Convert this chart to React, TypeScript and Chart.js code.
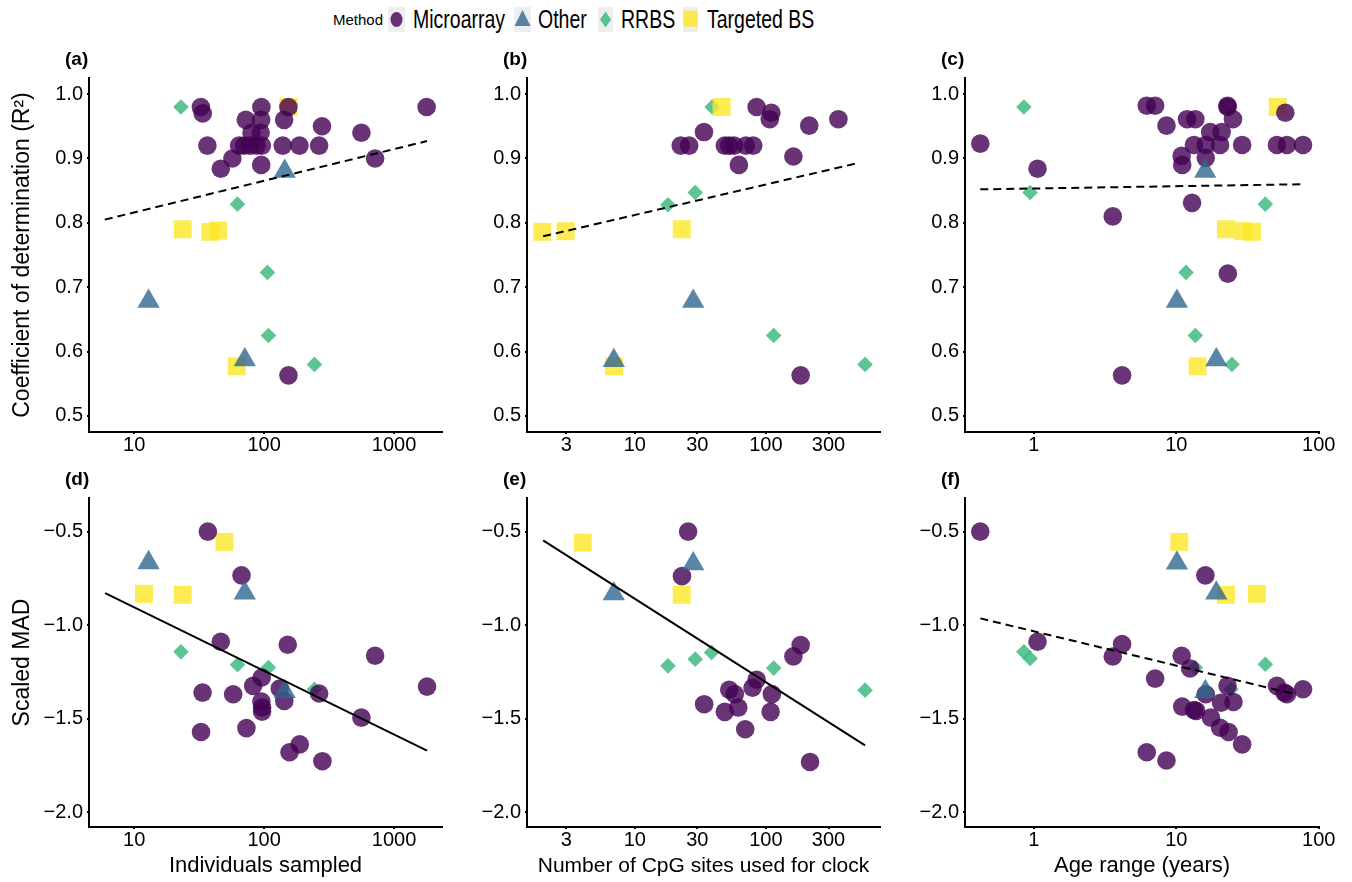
import React, { useEffect, useRef } from 'react';
import { Chart, registerables } from 'chart.js';

Chart.register(...registerables);

const FONT = '"Liberation Sans", Arial, Helvetica, sans-serif';

// ---- categories / colours ----
const methods = ['Microarray', 'Other', 'RRBS', 'Targeted BS'];
const methodColors = ['rgba(68,1,84,0.8)', 'rgba(49,104,142,0.8)', 'rgba(53,183,121,0.8)', 'rgba(253,231,37,0.8)'];

type Pt = [number, number];

// ---- panel (a): R² vs individuals sampled ----
const aMicro: Pt[] = [[32.6, 0.98], [33.7, 0.97], [36.6, 0.92], [46.4, 0.884], [57, 0.9], [64.2, 0.92], [72.3, 0.96], [70.2, 0.92], [80, 0.94], [78, 0.92], [87.3, 0.92], [95.3, 0.98], [95, 0.96], [94, 0.94], [96, 0.92], [95, 0.89], [142.6, 0.96], [139, 0.92], [153.8, 0.98], [187, 0.92], [265, 0.92], [279, 0.95], [561, 0.94], [715, 0.9], [1782, 0.98], [154, 0.563]];
const aOther: Pt[] = [[12.9, 0.678], [71, 0.587], [144, 0.88]];
const aRRBS: Pt[] = [[22.9, 0.98], [62.4, 0.829], [106, 0.723], [108, 0.625], [244, 0.58]];
const aTBS: Pt[] = [[23.6, 0.79], [38.6, 0.786], [44.3, 0.788], [61.6, 0.577], [154, 0.98]];
const aFit: Pt[] = [[5.94, 0.805], [1795, 0.927]];

// ---- panel (b): R² vs number of CpG sites ----
const bMicro: Pt[] = [[22.4, 0.92], [26, 0.92], [33.7, 0.941], [48.6, 0.92], [52.5, 0.92], [57.3, 0.92], [62.2, 0.89], [70.3, 0.92], [80, 0.92], [84.9, 0.98], [110, 0.971], [107, 0.961], [162, 0.903], [214, 0.951], [357, 0.961], [184, 0.563]];
const bOther: Pt[] = [[6.92, 0.586], [27.9, 0.678]];
const bRRBS: Pt[] = [[38.9, 0.98], [17.9, 0.828], [28.9, 0.847], [114.6, 0.625], [570, 0.58]];
const bTBS: Pt[] = [[1.97, 0.786], [2.97, 0.787], [22.8, 0.79], [6.95, 0.577], [45.9, 0.98]];
const bFit: Pt[] = [[2.0, 0.779], [507, 0.893]];

// ---- panel (c): R² vs age range ----
const cMicro: Pt[] = [[0.42, 0.923], [1.06, 0.884], [3.58, 0.81], [4.16, 0.563], [6.2, 0.982], [7.1, 0.982], [8.53, 0.951], [10.9, 0.904], [11.0, 0.89], [11.9, 0.961], [13.6, 0.961], [12.9, 0.831], [13.3, 0.921], [16.1, 0.921], [17.3, 0.941], [16.1, 0.901], [20.3, 0.921], [20.8, 0.941], [22.9, 0.982], [22.9, 0.98], [25, 0.961], [23, 0.721], [29, 0.921], [50.9, 0.921], [58.3, 0.971], [59.8, 0.921], [77.6, 0.921]];
const cOther: Pt[] = [[15.96, 0.88], [10.1, 0.678], [19.1, 0.587]];
const cRRBS: Pt[] = [[0.85, 0.98], [0.94, 0.847], [11.7, 0.723], [13.6, 0.625], [24.6, 0.58], [42.2, 0.829]];
const cTBS: Pt[] = [[51.5, 0.98], [22.3, 0.79], [29.7, 0.787], [34, 0.786], [14.1, 0.577]];
const cFit: Pt[] = [[0.42, 0.852], [78.4, 0.86]];

// ---- panel (d): scaled MAD vs individuals sampled ----
const dMicro: Pt[] = [[36.9, -0.5], [67, -0.734], [46.4, -1.089], [152, -1.105], [715, -1.164], [1795, -1.329], [33.6, -1.361], [57.8, -1.37], [82.3, -1.325], [95.9, -1.28], [132, -1.339], [143, -1.406], [95.3, -1.409], [96.5, -1.441], [96.5, -1.463], [265, -1.366], [561, -1.495], [32.7, -1.572], [73.1, -1.551], [157, -1.68], [188, -1.638], [281, -1.728]];
const dOther: Pt[] = [[12.9, -0.666], [71, -0.829], [144, -1.356]];
const dRRBS: Pt[] = [[22.9, -1.143], [62.4, -1.212], [108, -1.227], [244, -1.343]];
const dTBS: Pt[] = [[11.9, -0.833], [23.6, -0.838], [49.5, -0.555]];
const dFit: Pt[] = [[5.98, -0.829], [1795, -1.671]];

// ---- panel (e): scaled MAD vs number of CpG sites ----
const eMicro: Pt[] = [[25.5, -0.5], [22.9, -0.738], [184, -1.107], [162, -1.167], [84.9, -1.292], [79, -1.335], [52.5, -1.346], [57.9, -1.369], [111, -1.369], [33.8, -1.423], [48.6, -1.464], [61.5, -1.441], [108.6, -1.464], [69.5, -1.557], [217, -1.732]];
const eOther: Pt[] = [[27.9, -0.672], [6.92, -0.833]];
const eRRBS: Pt[] = [[17.9, -1.218], [28.9, -1.182], [38.5, -1.146], [114.6, -1.23], [570, -1.348]];
const eTBS: Pt[] = [[4.01, -0.559], [22.8, -0.838]];
const eFit: Pt[] = [[2.0, -0.547], [570, -1.643]];

// ---- panel (f): scaled MAD vs age range ----
const fMicro: Pt[] = [[0.42, -0.5], [1.06, -1.089], [3.58, -1.168], [4.16, -1.101], [6.2, -1.68], [7.1, -1.286], [8.53, -1.724], [10.9, -1.164], [11.0, -1.436], [12.5, -1.232], [13.3, -1.454], [13.8, -1.459], [16.0, -0.734], [16.1, -1.37], [17.5, -1.495], [20.3, -1.549], [20.6, -1.415], [22.9, -1.325], [23.3, -1.572], [25.2, -1.411], [29.0, -1.638], [50.9, -1.325], [57.4, -1.361], [59.8, -1.37], [77.6, -1.343]];
const fOther: Pt[] = [[10.1, -0.668], [19.1, -0.829], [16.0, -1.356]];
const fRRBS: Pt[] = [[0.85, -1.143], [0.94, -1.178], [13.6, -1.227], [24.2, -1.343], [42.2, -1.209]];
const fTBS: Pt[] = [[10.5, -0.555], [22.3, -0.838], [36.8, -0.833]];
const fFit: Pt[] = [[0.42, -0.964], [68.5, -1.37]];

// ---- ticks ----
const individualsTicks = [10, 100, 1000];
const individualsTickLabels = ['10', '100', '1000'];
const cpgTicks = [3, 10, 30, 100, 300];
const cpgTickLabels = ['3', '10', '30', '100', '300'];
const ageTicks = [1, 10, 100];
const ageTickLabels = ['1', '10', '100'];
const r2Ticks = [0.5, 0.6, 0.7, 0.8, 0.9, 1.0];
const r2TickLabels = ['0.5', '0.6', '0.7', '0.8', '0.9', '1.0'];
const madTicks = [-2.0, -1.5, -1.0, -0.5];
const madTickLabels = ['\u22122.0', '\u22121.5', '\u22121.0', '\u22120.5'];

// ---- axis ranges ----
const individualsRange: [number, number] = [4.49, 2340];
const cpgRange: [number, number] = [1.507, 741];
const ageRange: [number, number] = [0.328, 100.5];
const r2Range: [number, number] = [0.475, 1.025];
const madRange: [number, number] = [-2.08, -0.32];

interface PanelSpec {
  tag: string;
  micro: Pt[]; other: Pt[]; rrbs: Pt[]; tbs: Pt[]; fit: Pt[]; dashed: boolean;
  xRange: [number, number]; xTicks: number[]; xLabels: string[];
  yRange: [number, number]; yTicks: number[]; yLabels: string[];
  xTitle: string; xTitleSize: number; yTitle: string;
  col: number; row: number;
}

const panels: PanelSpec[] = [
  { tag: '(a)', micro: aMicro, other: aOther, rrbs: aRRBS, tbs: aTBS, fit: aFit, dashed: true, xRange: individualsRange, xTicks: individualsTicks, xLabels: individualsTickLabels, yRange: r2Range, yTicks: r2Ticks, yLabels: r2TickLabels, xTitle: '', xTitleSize: 22, yTitle: 'Coefficient of determination (R\u00B2)', col: 0, row: 0 },
  { tag: '(b)', micro: bMicro, other: bOther, rrbs: bRRBS, tbs: bTBS, fit: bFit, dashed: true, xRange: cpgRange, xTicks: cpgTicks, xLabels: cpgTickLabels, yRange: r2Range, yTicks: r2Ticks, yLabels: r2TickLabels, xTitle: '', xTitleSize: 21, yTitle: '', col: 1, row: 0 },
  { tag: '(c)', micro: cMicro, other: cOther, rrbs: cRRBS, tbs: cTBS, fit: cFit, dashed: true, xRange: ageRange, xTicks: ageTicks, xLabels: ageTickLabels, yRange: r2Range, yTicks: r2Ticks, yLabels: r2TickLabels, xTitle: '', xTitleSize: 22, yTitle: '', col: 2, row: 0 },
  { tag: '(d)', micro: dMicro, other: dOther, rrbs: dRRBS, tbs: dTBS, fit: dFit, dashed: false, xRange: individualsRange, xTicks: individualsTicks, xLabels: individualsTickLabels, yRange: madRange, yTicks: madTicks, yLabels: madTickLabels, xTitle: 'Individuals sampled', xTitleSize: 22, yTitle: 'Scaled MAD', col: 0, row: 1 },
  { tag: '(e)', micro: eMicro, other: eOther, rrbs: eRRBS, tbs: eTBS, fit: eFit, dashed: false, xRange: cpgRange, xTicks: cpgTicks, xLabels: cpgTickLabels, yRange: madRange, yTicks: madTicks, yLabels: madTickLabels, xTitle: 'Number of CpG sites used for clock', xTitleSize: 21, yTitle: '', col: 1, row: 1 },
  { tag: '(f)', micro: fMicro, other: fOther, rrbs: fRRBS, tbs: fTBS, fit: fFit, dashed: true, xRange: ageRange, xTicks: ageTicks, xLabels: ageTickLabels, yRange: madRange, yTicks: madTicks, yLabels: madTickLabels, xTitle: 'Age range (years)', xTitleSize: 22, yTitle: '', col: 2, row: 1 },
];

// ---- layout (pixels) ----
const COLS = [
  { areaLeft: 89, areaRight: 442, yW: 89 },
  { areaLeft: 527, areaRight: 880, yW: 77 },
  { areaLeft: 965, areaRight: 1319, yW: 75 },
];
const ROWS = [
  { canvasTop: 40, areaTop: 78, areaBottom: 432, xH: 30 },
  { canvasTop: 460, areaTop: 498, areaBottom: 827, xH: 55 },
];
const PAD_R = 30;

const panelTagPlugin = {
  id: 'panelTag',
  afterDraw(chart: any, _args: any, opts: any) {
    const { ctx, chartArea } = chart;
    ctx.save();
    ctx.font = `bold 19px ${FONT}`;
    ctx.fillStyle = '#000';
    ctx.textAlign = 'left';
    ctx.textBaseline = 'middle';
    ctx.fillText(opts.text, chartArea.left - 24, chartArea.top - 18);
    ctx.restore();
  },
};

function Panel({ spec }: { spec: PanelSpec }) {
  const ref = useRef<HTMLCanvasElement | null>(null);
  const col = COLS[spec.col];
  const row = ROWS[spec.row];
  const left = col.areaLeft - col.yW;
  const width = col.yW + (col.areaRight - col.areaLeft) + PAD_R;
  const top = row.canvasTop;
  const height = row.areaBottom - row.canvasTop + row.xH;

  useEffect(() => {
    if (!ref.current) return;
    const toXY = (pts: Pt[]) => pts.map(([x, y]) => ({ x, y }));
    const pointSet = (label: string, pts: Pt[], style: string, radius: number, color: string) => ({
      label,
      data: toXY(pts),
      pointStyle: style,
      pointRadius: radius,
      pointHoverRadius: radius,
      pointBackgroundColor: color,
      backgroundColor: color,
      pointBorderWidth: 0,
      borderWidth: 0,
      showLine: false,
      clip: false,
    });
    const chart = new Chart(ref.current, {
      type: 'scatter',
      data: {
        datasets: [
          {
            label: 'fit',
            data: toXY(spec.fit),
            showLine: true,
            borderColor: '#000',
            borderWidth: 2,
            borderDash: spec.dashed ? [8, 5] : [],
            pointRadius: 0,
            pointHoverRadius: 0,
            fill: false,
            tension: 0,
            clip: false,
          } as any,
          pointSet(methods[1], spec.other, 'triangle', 12.9, methodColors[1]),
          pointSet(methods[0], spec.micro, 'circle', 9.3, methodColors[0]),
          pointSet(methods[3], spec.tbs, 'rect', 12.7, methodColors[3]),
          pointSet(methods[2], spec.rrbs, 'rectRot', 7.8, methodColors[2]),
        ] as any,
      },
      options: {
        animation: false,
        responsive: false,
        maintainAspectRatio: false,
        events: [],
        layout: { padding: { left: 0, right: PAD_R, top: row.areaTop - row.canvasTop, bottom: 0 } },
        plugins: {
          legend: { display: false },
          tooltip: { enabled: false },
          title: { display: false },
          panelTag: { text: spec.tag },
        } as any,
        scales: {
          x: {
            type: 'logarithmic',
            min: spec.xRange[0],
            max: spec.xRange[1],
            bounds: 'data',
            border: { display: true, color: '#000', width: 2 },
            grid: { display: true, drawOnChartArea: false, drawTicks: true, tickLength: 2, color: '#000', lineWidth: 2 },
            ticks: {
              autoSkip: false,
              maxRotation: 0,
              padding: -1,
              color: '#000',
              font: { family: FONT, size: 20 },
              callback: (_v: any, i: number) => spec.xLabels[i],
            },
            title: {
              display: !!spec.xTitle,
              text: spec.xTitle,
              color: '#000',
              font: { family: FONT, size: spec.xTitleSize },
              padding: { top: 0, bottom: 3 },
            },
            afterBuildTicks: (s: any) => { s.ticks = spec.xTicks.map((v) => ({ value: v })); },
            afterFit: (s: any) => { s.height = row.xH; },
          } as any,
          y: {
            type: 'linear',
            min: spec.yRange[0],
            max: spec.yRange[1],
            bounds: 'data',
            border: { display: true, color: '#000', width: 2 },
            grid: { display: true, drawOnChartArea: false, drawTicks: true, tickLength: 2, color: '#000', lineWidth: 2 },
            ticks: {
              autoSkip: false,
              padding: 4,
              color: '#000',
              font: { family: FONT, size: 20 },
              callback: (_v: any, i: number) => spec.yLabels[i],
            },
            title: {
              display: !!spec.yTitle,
              text: spec.yTitle,
              color: '#000',
              font: { family: FONT, size: 23 },
              padding: { top: 9, bottom: 0 },
            },
            afterBuildTicks: (s: any) => { s.ticks = spec.yTicks.map((v) => ({ value: v })); },
            afterFit: (s: any) => { s.width = col.yW; },
          } as any,
        },
      },
      plugins: [panelTagPlugin as any],
    });
    return () => chart.destroy();
  }, []);

  return (
    <canvas
      ref={ref}
      width={width}
      height={height}
      style={{ position: 'absolute', left, top, width, height }}
    />
  );
}

function KeyShape({ kind, color }: { kind: number; color: string }) {
  if (kind === 0) return <ellipse cx={8.5} cy={12.5} rx={6} ry={7.5} fill={color} />;
  if (kind === 1) return <polygon points="8.5,3 16.5,19 0.5,19" fill={color} />;
  if (kind === 2) return <polygon points="7.5,4.5 13,12.5 7.5,20.5 2,12.5" fill={color} />;
  return <rect x={0.5} y={3.7} width={14} height={16} fill={color} />;
}

const legendKeyLeft = [388, 514, 598, 683];
const legendKeyWidth = [17, 17, 15, 15];
const legendTextLeft = [413, 538, 621, 707];

function Legend() {
  return (
    <>
      <div style={{ position: 'absolute', left: 333, top: 10, fontFamily: FONT, fontSize: 15, lineHeight: '20px', color: '#000' }}>Method</div>
      {methods.map((m, i) => (
        <React.Fragment key={m}>
          <div style={{ position: 'absolute', left: legendKeyLeft[i], top: 7, width: legendKeyWidth[i], height: 25, background: '#eeeeee' }}>
            <svg width={legendKeyWidth[i]} height={25} style={{ display: 'block' }}>
              <KeyShape kind={i} color={methodColors[i]} />
            </svg>
          </div>
          <div style={{ position: 'absolute', left: legendTextLeft[i], top: 5, fontFamily: FONT, fontSize: 25, lineHeight: '28px', color: '#000', whiteSpace: 'nowrap', transform: 'scaleX(0.78)', transformOrigin: '0 50%' }}>{m}</div>
        </React.Fragment>
      ))}
    </>
  );
}

export default function App() {
  return (
    <div style={{ position: 'absolute', left: 0, top: 0, width: 1352, height: 882, background: '#fff', overflow: 'hidden' }}>
      <Legend />
      {panels.map((p) => <Panel key={p.tag} spec={p} />)}
    </div>
  );
}
